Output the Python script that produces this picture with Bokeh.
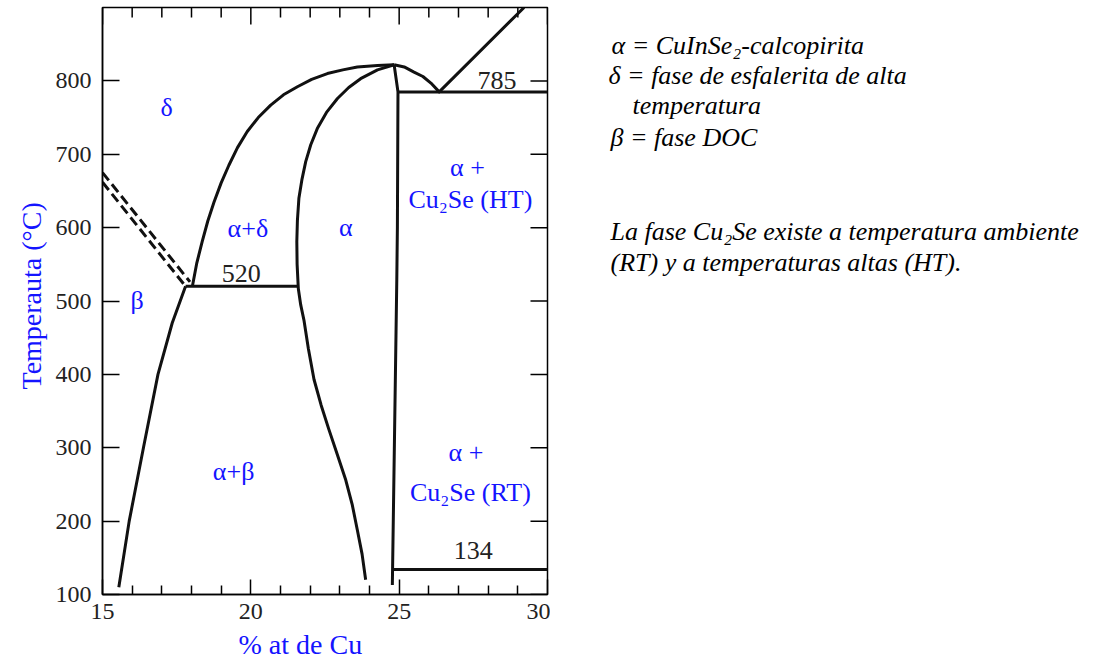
import math

from bokeh.core.properties import value
from bokeh.embed import file_html
from bokeh.layouts import row
from bokeh.models import FixedTicker, LinearAxis, Range1d, Title
from bokeh.plotting import figure
from bokeh.resources import INLINE

# Phase boundaries of the Cu2Se-In2Se3 section: composition (% at Cu) vs temperature (°C)
beta_solvus_x = [15.55, 15.9, 16.38, 16.87, 17.35, 17.8]
beta_solvus_t = [110, 200, 300, 400, 470, 520]

beta_delta_upper_x = [15.0, 17.95]
beta_delta_upper_t = [675, 526]
beta_delta_lower_x = [15.0, 17.8]
beta_delta_lower_t = [662, 520]

delta_x = [18.03, 18.18, 18.36, 18.55, 18.76, 19.0, 19.26, 19.55, 19.88, 20.25,
           20.67, 21.1, 21.57, 22.05, 22.58, 23.1, 23.59, 24.27, 24.83]
delta_t = [520, 552, 581, 609, 635, 661, 685, 709, 731, 750,
           767, 781, 792, 802, 810, 815, 819, 821, 822]

alpha_left_x = [24.83, 24.27, 23.7, 23.3, 22.92, 22.55, 22.24, 22.02, 21.85, 21.72,
                21.62, 21.57, 21.55, 21.56, 21.6, 21.68, 21.79, 21.94, 22.13, 22.37,
                22.63, 22.92, 23.2, 23.42, 23.59, 23.75, 23.87]
alpha_left_t = [822, 815, 803, 791, 776, 757, 735, 713, 690, 665,
                640, 610, 581, 550, 517, 495, 474, 435, 393, 358,
                325, 290, 256, 222, 188, 155, 120]

alpha_right_x = [24.83, 24.96, 24.94, 24.92, 24.77]
alpha_right_t = [822, 785, 600, 529, 113]

liquidus_x = [24.83, 25.17, 25.5, 25.8, 26.07, 26.35, 29.21]
liquidus_t = [822, 819, 812, 806, 797, 785, 900]

# Invariant isotherms
T_EUTECTOID = 520
T_EUTECTIC = 785
T_TRANSITION = 134
eutectoid_x = [17.8, 21.6]
eutectic_x = [24.96, 30.0]
transition_x = [24.81, 30.0]

# Phase-field names
region_text = ["δ", "α+δ", "α", "β", "α+β", "α +", "Cu₂Se (HT)", "α +", "Cu₂Se (RT)"]
region_x = [17.16, 19.9, 23.2, 16.17, 19.42, 27.3, 27.4, 27.25, 27.4]
region_t = [764, 599, 600, 501, 267, 682, 638, 293, 239]

# Isotherm value labels
isotherm_t = [T_EUTECTOID, T_EUTECTIC, T_TRANSITION]
isotherm_label_x = [19.68, 28.3, 27.5]
isotherm_label_t = [538, 800, 160]

x_major = [15, 20, 25, 30]
x_minor = [16, 17, 18, 19, 21, 22, 23, 24, 26, 27, 28, 29]
t_ticks = [100, 200, 300, 400, 500, 600, 700, 800]

# Notes beside the diagram
notes = [
    "α = CuInSe₂-calcopirita",
    "δ = fase de esfalerita de alta",
    "temperatura",
    "β = fase DOC",
    "La fase Cu₂Se existe a temperatura ambiente",
    "(RT) y a temperaturas altas (HT).",
]

SERIF = "Liberation Serif"
BLUE = "#1414ff"
INK = "#111111"

X0, X1 = 15, 30
T0, T1 = 100, 900
BORDER_TOP, BORDER_BOTTOM = 7, 70
HEIGHT = 665

p = figure(
    width=550, height=HEIGHT,
    x_range=Range1d(X0, X1), y_range=Range1d(T0, T1),
    output_backend="svg", toolbar_location=None,
    min_border_left=102, min_border_right=3,
    min_border_top=BORDER_TOP, min_border_bottom=BORDER_BOTTOM,
    x_axis_location=None, y_axis_location=None,
)
p.grid.visible = False
p.outline_line_color = "black"
p.outline_line_width = 1.5
p.border_fill_color = "white"


def make_axis(ticker, tick_len, minor_len, standoff):
    ax = LinearAxis(ticker=ticker)
    ax.axis_line_color = "black"
    ax.axis_line_width = 1.5
    ax.major_tick_line_color = "black"
    ax.major_tick_line_width = 1.5
    ax.minor_tick_line_color = "black"
    ax.minor_tick_line_width = 1.5
    ax.major_tick_in = tick_len
    ax.major_tick_out = 0
    ax.minor_tick_in = minor_len
    ax.minor_tick_out = 0
    ax.major_label_standoff = standoff
    ax.major_label_text_font = SERIF
    ax.major_label_text_color = "#222222"
    ax.major_label_text_font_size = "24px"
    return ax


def axis_title(text, offset, standoff):
    return Title(text=text, align="left", offset=offset, standoff=standoff,
                 text_font=SERIF, text_font_style="normal",
                 text_font_size="28px", text_color=BLUE)


x_ticker = FixedTicker(ticks=x_major, minor_ticks=x_minor)
t_ticker = FixedTicker(ticks=t_ticks, minor_ticks=[])

p.add_layout(make_axis(x_ticker, 15, 9, 9), "below")
p.add_layout(make_axis(t_ticker, 17, 0, 11), "left")
p.add_layout(axis_title("% at de Cu", 136, 11), "below")
p.add_layout(axis_title("Temperauta (°C)", 205, 12), "left")

# Inward ticks along the top and right edges of the frame
tick = dict(line_color="black", line_width=1.5, length_units="screen")
p.ray(x=x_major, y=[T1] * len(x_major), length=17, angle=-math.pi / 2, **tick)
p.ray(x=x_minor, y=[T1] * len(x_minor), length=10, angle=-math.pi / 2, **tick)
p.ray(x=[X1] * len(t_ticks), y=t_ticks, length=17, angle=math.pi, **tick)

# Phase boundaries
solid = dict(line_color=INK, line_width=3, line_join="round", line_cap="butt")
p.line(beta_solvus_x, beta_solvus_t, **solid)
p.line(delta_x, delta_t, **solid)
p.line(alpha_left_x, alpha_left_t, **solid)
p.line(alpha_right_x, alpha_right_t, **solid)
p.line(liquidus_x, liquidus_t, **solid)
p.line(eutectoid_x, [T_EUTECTOID] * 2, **solid)
p.line(eutectic_x, [T_EUTECTIC] * 2, **solid)
p.line(transition_x, [T_TRANSITION] * 2, **solid)

# Uncertain beta/delta boundary (double dashed)
dashed = dict(line_color=INK, line_width=3, line_dash="10 5")
p.line(beta_delta_upper_x, beta_delta_upper_t, **dashed)
p.line(beta_delta_lower_x, beta_delta_lower_t, **dashed)

# Phase-field names
p.text(x=region_x, y=region_t, text=region_text,
       text_font=value(SERIF), text_font_size="26px", text_color=BLUE,
       text_align="center", text_baseline="middle")

# Isotherm values
p.text(x=isotherm_label_x, y=isotherm_label_t, text=[str(t) for t in isotherm_t],
       text_font=value(SERIF), text_font_size="26px", text_color="#222222",
       text_align="center", text_baseline="middle")

# Side panel with the phase legend and a note on Cu2Se.
# Its frame has the same vertical borders as the diagram, and its y range
# runs in page pixels from the top of the frame down.
side = figure(
    width=548, height=HEIGHT,
    x_range=Range1d(0, 548), y_range=Range1d(HEIGHT - BORDER_BOTTOM, BORDER_TOP),
    output_backend="svg", toolbar_location=None,
    min_border_left=0, min_border_right=0,
    min_border_top=BORDER_TOP, min_border_bottom=BORDER_BOTTOM,
    x_axis_location=None, y_axis_location=None,
)
side.grid.visible = False
side.outline_line_color = None
side.border_fill_color = "white"

note_x = [61, 58, 82, 60, 60, 60]
note_y = [45, 75, 105, 137, 231, 262]
side.text(x=note_x, y=note_y, text=notes,
          text_font=value(SERIF), text_font_style="italic", text_font_size="26px",
          text_color="black", text_align="left", text_baseline="alphabetic")

open("out.html", "w").write(file_html(row(p, side), INLINE))
